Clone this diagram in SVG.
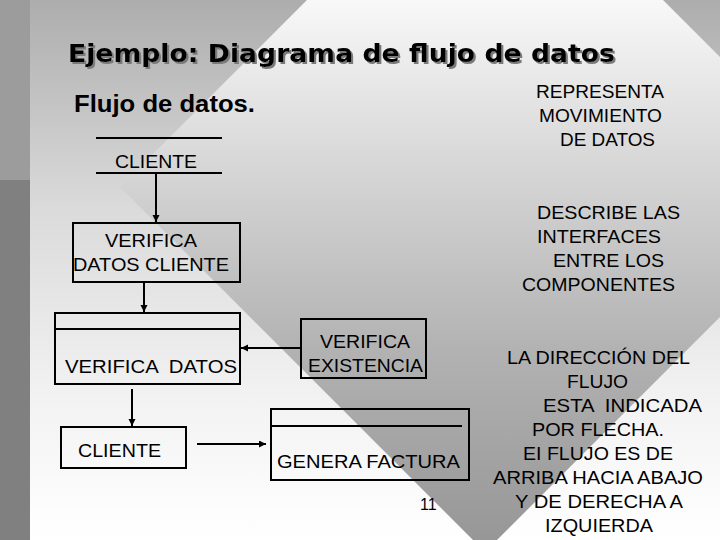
<svg xmlns="http://www.w3.org/2000/svg" width="720" height="540" viewBox="0 0 720 540">
<defs>
<linearGradient id="bgGrad" gradientUnits="userSpaceOnUse" x1="0" y1="0" x2="0" y2="540">
<stop offset="0" stop-color="#adadad"/>
<stop offset="0.38" stop-color="#dadada"/>
<stop offset="0.75" stop-color="#f3f3f3"/>
<stop offset="1" stop-color="#ffffff"/>
</linearGradient>
<linearGradient id="diaGrad" gradientUnits="userSpaceOnUse" x1="0" y1="0" x2="0" y2="540">
<stop offset="0" stop-color="#f8f8f8"/>
<stop offset="0.35" stop-color="#d2d2d2"/>
<stop offset="0.65" stop-color="#b2b2b2"/>
<stop offset="1" stop-color="#979797"/>
</linearGradient>
<filter id="shadow" x="-5%" y="-20%" width="110%" height="150%">
<feOffset in="SourceAlpha" dx="2" dy="2" result="off"/>
<feFlood flood-color="#7a7a7a"/>
<feComposite in2="off" operator="in" result="sh"/>
<feMerge><feMergeNode in="sh"/><feMergeNode in="SourceGraphic"/></feMerge>
</filter>
<marker id="arr" markerUnits="userSpaceOnUse" markerWidth="8" markerHeight="8" refX="7" refY="3.5" orient="auto">
<path d="M0,0 L7,3.5 L0,7 z" fill="#000"/>
</marker>
<style>
.lbl{font-family:"Liberation Sans",Arial,sans-serif;font-size:19px;fill:#000}
.box{fill:none;stroke:#000;stroke-width:2}
.ln{stroke:#000;stroke-width:2;fill:none}
.con{stroke:#000;stroke-width:2;fill:none;marker-end:url(#arr)}
.title{font-family:"DejaVu Sans",Verdana,sans-serif;font-weight:bold;font-size:24px}
</style>
</defs>

<g id="background">
<rect x="0" y="0" width="720" height="540" fill="url(#bgGrad)"/>
<polygon points="485,-178 850,187 485,552 120,187" fill="url(#diaGrad)"/>
<rect x="0" y="0" width="30" height="180" fill="#9c9c9c"/>
<rect x="0" y="180" width="30" height="360" fill="#808080"/>
</g>

<g id="title">
<text class="title" x="68" y="62" fill="#000" filter="url(#shadow)" textLength="547" lengthAdjust="spacingAndGlyphs">Ejemplo: Diagrama de flujo de datos</text>
</g>

<g id="subtitle">
<text x="74" y="112" font-family="'Liberation Sans',Arial,sans-serif" font-weight="bold" font-size="24" textLength="181" lengthAdjust="spacingAndGlyphs">Flujo de datos.</text>
</g>

<g id="note-representa">
<text class="lbl" x="536" y="98" textLength="128" lengthAdjust="spacingAndGlyphs">REPRESENTA</text>
<text class="lbl" x="539" y="122" textLength="123" lengthAdjust="spacingAndGlyphs">MOVIMIENTO</text>
<text class="lbl" x="560" y="146" textLength="95" lengthAdjust="spacingAndGlyphs">DE DATOS</text>
</g>

<g id="note-describe">
<text class="lbl" x="537" y="219" textLength="143" lengthAdjust="spacingAndGlyphs">DESCRIBE LAS</text>
<text class="lbl" x="537" y="243" textLength="124" lengthAdjust="spacingAndGlyphs">INTERFACES</text>
<text class="lbl" x="553" y="267" textLength="111" lengthAdjust="spacingAndGlyphs">ENTRE LOS</text>
<text class="lbl" x="522" y="291" textLength="153" lengthAdjust="spacingAndGlyphs">COMPONENTES</text>
</g>

<g id="note-direccion">
<text class="lbl" x="507" y="364" textLength="183" lengthAdjust="spacingAndGlyphs">LA DIRECCIÓN DEL</text>
<text class="lbl" x="567" y="388" textLength="61" lengthAdjust="spacingAndGlyphs">FLUJO</text>
<text class="lbl" x="543" y="412" textLength="159" lengthAdjust="spacingAndGlyphs" xml:space="preserve">ESTA  INDICADA</text>
<text class="lbl" x="532" y="436" textLength="132" lengthAdjust="spacingAndGlyphs">POR FLECHA.</text>
<text class="lbl" x="523" y="460" textLength="150" lengthAdjust="spacingAndGlyphs">EI FLUJO ES DE</text>
<text class="lbl" x="493" y="484" textLength="210" lengthAdjust="spacingAndGlyphs">ARRIBA HACIA ABAJO</text>
<text class="lbl" x="515" y="508" textLength="168" lengthAdjust="spacingAndGlyphs">Y DE DERECHA A</text>
<text class="lbl" x="545" y="532" textLength="108" lengthAdjust="spacingAndGlyphs">IZQUIERDA</text>
</g>

<g id="store-cliente-top">
<line class="ln" x1="96" y1="138" x2="222" y2="138"/>
<line class="ln" x1="96" y1="173" x2="222" y2="173"/>
<text class="lbl" x="115" y="168" textLength="82" lengthAdjust="spacingAndGlyphs">CLIENTE</text>
</g>

<g id="proc-verifica-datos-cliente">
<rect class="box" x="73" y="223" width="167" height="59"/>
<text class="lbl" x="105" y="247" textLength="92" lengthAdjust="spacingAndGlyphs">VERIFICA</text>
<text class="lbl" x="73" y="271" textLength="156" lengthAdjust="spacingAndGlyphs">DATOS CLIENTE</text>
</g>

<g id="store-verifica-datos">
<rect class="box" x="55" y="313" width="185" height="71"/>
<line class="ln" x1="55" y1="329" x2="240" y2="329"/>
<text class="lbl" x="65" y="373" textLength="172" lengthAdjust="spacingAndGlyphs" xml:space="preserve">VERIFICA  DATOS</text>
</g>

<g id="proc-verifica-existencia">
<rect class="box" x="301" y="319" width="125" height="59"/>
<text class="lbl" x="320" y="348" textLength="90" lengthAdjust="spacingAndGlyphs">VERIFICA</text>
<text class="lbl" x="308" y="372" textLength="115" lengthAdjust="spacingAndGlyphs">EXISTENCIA</text>
</g>

<g id="ext-cliente">
<rect class="box" x="61" y="427" width="125" height="41"/>
<text class="lbl" x="78" y="457" textLength="83" lengthAdjust="spacingAndGlyphs">CLIENTE</text>
</g>

<g id="store-genera-factura">
<rect class="box" x="271" y="409" width="198" height="71"/>
<line class="ln" x1="271" y1="426" x2="462" y2="426"/>
<text class="lbl" x="277" y="468" textLength="183" lengthAdjust="spacingAndGlyphs">GENERA FACTURA</text>
</g>

<g id="page-number">
<text x="420" y="510" font-family="'Liberation Sans',Arial,sans-serif" font-size="16">11</text>
</g>

<g id="connectors">
<path class="con" d="M156,173 L156,222"/>
<path class="con" d="M144,282 L144,312"/>
<path class="con" d="M301,348 L241,348"/>
<path class="con" d="M132,389 L132,426"/>
<path class="con" d="M197,444 L266,444"/>
</g>
</svg>
